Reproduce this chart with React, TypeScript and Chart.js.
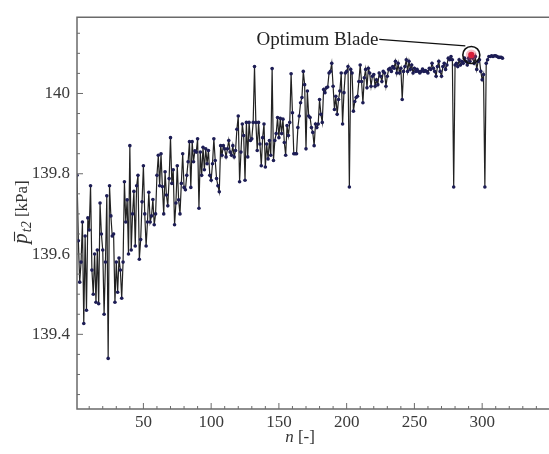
import React, { useEffect, useRef } from "react";
import { Chart, registerables } from "chart.js";

Chart.register(...registerables);

// Axis ticks
const X_TICKS = [50, 100, 150, 200, 250, 300];
const X_MINOR = [10, 20, 30, 40, 60, 70, 80, 90, 110, 120, 130, 140, 160, 170, 180, 190, 210, 220, 230, 240, 260, 270, 280, 290, 310, 320, 330, 340];
const Y_TICKS = [139.4, 139.6, 139.8, 140];
const Y_MINOR = [139.25, 139.3, 139.35, 139.45, 139.5, 139.55, 139.65, 139.7, 139.75, 139.85, 139.9, 139.95, 140.05, 140.1, 140.15];

// Mean total pressure p_t2 [kPa] for blade n = 1, 2, 3, ...
const PT2_001_045 = [
  139.796, 139.633, 139.53, 139.58, 139.68, 139.427, 139.645, 139.46, 139.69, 139.66,
  139.77, 139.56, 139.5, 139.6, 139.48, 139.61, 139.476, 139.727, 139.65, 139.61,
  139.45, 139.58, 139.745, 139.34, 139.77, 139.695, 139.645, 139.65, 139.48, 139.58,
  139.505, 139.59, 139.56, 139.49, 139.58, 139.78, 139.68, 139.735, 139.6, 139.87,
  139.61, 139.7, 139.756, 139.62, 139.77,
];
const PT2_046_094 = [
  139.796, 139.587, 139.636, 139.73, 139.82, 139.7, 139.62, 139.68, 139.754, 139.68,
  139.695, 139.736, 139.673, 139.7, 139.796, 139.846, 139.77, 139.85, 139.768, 139.7,
  139.805, 139.747, 139.72, 139.788, 139.89, 139.776, 139.81, 139.673, 139.727, 139.82,
  139.735, 139.7, 139.776, 139.85, 139.766, 139.76, 139.796, 139.83, 139.88, 139.766,
  139.88, 139.83, 139.857, 139.854, 139.887, 139.714, 139.854, 139.796, 139.866,
];
const PT2_095_141 = [
  139.81, 139.862, 139.825, 139.858, 139.796, 139.784, 139.825, 139.887, 139.833, 139.788,
  139.77, 139.755, 139.87, 139.846, 139.87, 139.862, 139.842, 139.862, 139.883, 139.854,
  139.846, 139.87, 139.842, 139.858, 139.911, 139.944, 139.78, 139.854, 139.924, 139.895,
  139.784, 139.928, 139.842, 139.928, 139.883, 139.887, 139.928, 140.067, 139.928, 139.858,
  139.928, 139.874, 139.82, 139.89, 139.924, 139.817, 139.874,
];
const PT2_142_189 = [
  139.837, 139.883, 139.846, 140.062, 139.833, 139.883, 139.9, 139.94, 139.89, 139.938,
  139.9, 139.936, 139.878, 139.846, 139.92, 139.895, 139.928, 140.049, 139.952, 139.85,
  139.85, 139.85, 139.915, 139.944, 139.977, 139.99, 140.055, 140.022, 139.862, 140.006,
  139.944, 139.94, 139.915, 139.903, 139.87, 139.924, 139.915, 139.924, 139.985, 139.948,
  139.928, 140.01, 140.002, 140.014, 140.016, 140.051, 140.055, 140.075,
];
const PT2_190_235 = [
  140.018, 139.96, 139.993, 139.948, 139.985, 140.006, 140.051, 139.924, 140.002, 140.051,
  140.055, 140.067, 139.767, 140.06, 140.051, 139.956, 139.98, 139.99, 139.993, 140.03,
  140.071, 140.03, 139.977, 140.039, 140.06, 140.014, 140.063, 140.051, 140.018, 140.043,
  140.047, 140.018, 140.034, 140.022, 140.051, 140.043, 140.03, 140.055, 140.051, 140.018,
  140.043, 140.06, 140.063, 140.055, 140.067, 140.063,
];
const PT2_236_278 = [
  140.08, 140.051, 140.075, 140.051, 140.063, 139.985, 140.055, 140.067, 140.084, 140.055,
  140.08, 140.06, 140.071, 140.051, 140.063, 140.055, 140.06, 140.055, 140.051, 140.055,
  140.061, 140.055, 140.057, 140.055, 140.051, 140.063, 140.06, 140.075, 140.063, 140.055,
  140.043, 140.067, 140.08, 140.055, 140.043, 140.067, 140.075, 140.06, 140.071, 140.088,
  140.084, 140.092, 140.084,
];
const PT2_279_315 = [
  139.767, 140.071, 140.075, 140.067, 140.084, 140.071, 140.08, 140.075, 140.088, 140.08,
  140.071, 140.088, 140.08, 140.096, 140.088, 140.075, 140.092, 140.06, 140.08, 140.084,
  140.055, 140.034, 140.047, 139.767, 140.075, 140.084, 140.092, 140.092, 140.094, 140.092,
  140.094, 140.094, 140.092, 140.09, 140.09, 140.09, 140.088,
];

const PT2 = [
  ...PT2_001_045, ...PT2_046_094, ...PT2_095_141, ...PT2_142_189,
  ...PT2_190_235, ...PT2_236_278, ...PT2_279_315,
];
const FIRST_N = 1;
const OPTIMUM_N = 292;
const OPTIMUM_LABEL = "Optimum Blade";

const SERIF = '"Liberation Serif", "DejaVu Serif", serif';

const decorPlugin = {
  id: "decor",
  afterDraw(chart: any) {
    const { ctx, chartArea: a, scales } = chart;
    const xs = scales.x;
    const ys = scales.y;
    ctx.save();

    // frame (left, top, bottom)
    ctx.strokeStyle = "#6a6a6a";
    ctx.lineWidth = 1.5;
    ctx.beginPath();
    ctx.moveTo(a.right + 2, a.top);
    ctx.lineTo(a.left, a.top);
    ctx.lineTo(a.left, a.bottom);
    ctx.lineTo(a.right + 2, a.bottom);
    ctx.stroke();

    // inward ticks
    ctx.lineWidth = 1;
    ctx.strokeStyle = "#6a6a6a";
    ctx.beginPath();
    X_TICKS.forEach((v) => {
      const px = xs.getPixelForValue(v);
      ctx.moveTo(px, a.bottom);
      ctx.lineTo(px, a.bottom - 6);
    });
    X_MINOR.forEach((v) => {
      const px = xs.getPixelForValue(v);
      ctx.moveTo(px, a.bottom);
      ctx.lineTo(px, a.bottom - 3);
    });
    Y_TICKS.forEach((v) => {
      const py = ys.getPixelForValue(v);
      ctx.moveTo(a.left, py);
      ctx.lineTo(a.left + 6, py);
    });
    Y_MINOR.forEach((v) => {
      const py = ys.getPixelForValue(v);
      ctx.moveTo(a.left, py);
      ctx.lineTo(a.left + 3, py);
    });
    ctx.stroke();

    // optimum marker + annotation
    const optVal = PT2[OPTIMUM_N - FIRST_N];
    const ox = xs.getPixelForValue(OPTIMUM_N);
    const oy = ys.getPixelForValue(optVal);
    ctx.fillStyle = "rgba(230,70,90,0.35)";
    ctx.beginPath();
    ctx.arc(ox, oy, 5.5, 0, Math.PI * 2);
    ctx.fill();
    ctx.fillStyle = "#d8203a";
    ctx.beginPath();
    ctx.arc(ox, oy, 3.2, 0, Math.PI * 2);
    ctx.fill();
    ctx.strokeStyle = "#111";
    ctx.lineWidth = 1.6;
    ctx.beginPath();
    ctx.arc(ox, oy, 8.5, 0, Math.PI * 2);
    ctx.stroke();
    ctx.lineWidth = 1.3;
    ctx.beginPath();
    ctx.moveTo(ox - 92, oy - 15.5);
    ctx.lineTo(ox - 6, oy - 9);
    ctx.stroke();
    ctx.fillStyle = "#222";
    ctx.font = `19px ${SERIF}`;
    ctx.textAlign = "right";
    ctx.textBaseline = "alphabetic";
    ctx.fillText(OPTIMUM_LABEL, ox - 93, oy - 10);

    // x title: n [-]
    ctx.textAlign = "left";
    ctx.fillStyle = "#333";
    ctx.font = `italic 17px ${SERIF}`;
    const wn = ctx.measureText("n").width;
    ctx.font = `17px ${SERIF}`;
    const wr = ctx.measureText(" [-]").width;
    let tx = 300 - (wn + wr) / 2;
    ctx.font = `italic 17px ${SERIF}`;
    ctx.fillText("n", tx, 442);
    ctx.font = `17px ${SERIF}`;
    ctx.fillText(" [-]", tx + wn, 442);

    // y title: p̄_t2 [kPa]
    ctx.translate(27, 212);
    ctx.rotate(-Math.PI / 2);
    const fP = `italic 21px ${SERIF}`;
    const fS = `italic 14px ${SERIF}`;
    const fU = `17px ${SERIF}`;
    ctx.font = fP;
    const wP = ctx.measureText("p").width;
    ctx.font = fS;
    const wS = ctx.measureText("t2").width;
    ctx.font = fU;
    const wU = ctx.measureText(" [kPa]").width;
    let cx = -(wP + 1 + wS + wU) / 2;
    ctx.font = fP;
    ctx.fillText("p", cx, 0);
    ctx.strokeStyle = "#333";
    ctx.lineWidth = 1.1;
    ctx.beginPath();
    ctx.moveTo(cx + 2.5, -12.5);
    ctx.lineTo(cx + wP + 1.5, -12.5);
    ctx.stroke();
    cx += wP + 1;
    ctx.font = fS;
    ctx.fillText("t2", cx, 4);
    cx += wS;
    ctx.font = fU;
    ctx.fillText(" [kPa]", cx, 0);

    ctx.restore();
  },
};

export default function App() {
  const ref = useRef<HTMLCanvasElement | null>(null);

  useEffect(() => {
    if (!ref.current) return;
    const points = PT2.map((v, i) => ({ x: FIRST_N + i, y: v }));
    const chart = new Chart(ref.current, {
      type: "scatter",
      data: {
        datasets: [
          {
            data: points,
            showLine: true,
            borderColor: "#222",
            borderWidth: 1.2,
            pointRadius: 1.8,
            pointBackgroundColor: "#1d1d55",
            pointBorderWidth: 0,
            pointHoverRadius: 1.8,
          },
        ],
      },
      options: {
        responsive: false,
        animation: false,
        events: [],
        layout: { padding: { left: 0, top: 13, right: 0, bottom: 0 } },
        plugins: { legend: { display: false }, tooltip: { enabled: false } },
        scales: {
          x: {
            type: "linear",
            min: 1,
            max: 348,
            afterFit: (s: any) => {
              s.height = 45;
            },
            afterBuildTicks: (s: any) => {
              s.ticks = X_TICKS.map((v) => ({ value: v }));
            },
            grid: { display: false, drawTicks: false },
            border: { display: false },
            ticks: {
              padding: 3,
              maxRotation: 0,
              autoSkip: false,
              color: "#3a3a3a",
              font: { family: SERIF, size: 17 },
              callback: (v: any) => String(Number(v)),
            },
          },
          y: {
            type: "linear",
            min: 139.214,
            max: 140.19,
            afterFit: (s: any) => {
              s.width = 77;
            },
            afterBuildTicks: (s: any) => {
              s.ticks = Y_TICKS.map((v) => ({ value: v }));
            },
            grid: { display: false, drawTicks: false },
            border: { display: false },
            ticks: {
              padding: 7,
              autoSkip: false,
              color: "#3a3a3a",
              font: { family: SERIF, size: 17 },
              callback: (v: any) => String(Number(v)),
            },
          },
        },
      },
      plugins: [decorPlugin],
    });
    return () => chart.destroy();
  }, []);

  return (
    <div style={{ position: "absolute", left: 0, top: 0, width: 549, height: 454, background: "#fff" }}>
      <canvas ref={ref} width={549} height={454} style={{ display: "block", width: 549, height: 454 }} />
    </div>
  );
}
